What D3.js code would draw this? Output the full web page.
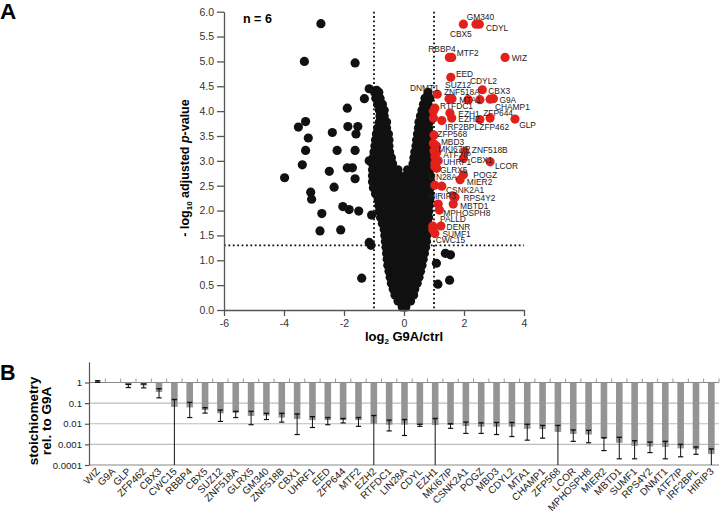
<!DOCTYPE html>
<html><head><meta charset="utf-8">
<script src="https://cdn.jsdelivr.net/npm/d3@7"></script>
<style>body{margin:0;background:#fff}svg{display:block;font-family:"Liberation Sans",Arial,Helvetica,sans-serif}</style>
</head><body><svg id="c" width="720" height="518"></svg>
<script>
// ---------- Panel A data ----------
const volcanoXTicks = [-6, -4, -2, 0, 2, 4];
const volcanoYTicks = [0, 0.5, 1, 1.5, 2, 2.5, 3, 3.5, 4, 4.5, 5, 5.5, 6];
const foldThresholds = [-1, 1];
const pThreshold = 1.3;

// dense central cloud: [-log10 p, [log2 fold values]]
const cloudRows = [
  [0.06, [-0.06, 0.06]],
  [0.18, [-0.2, -0.05, 0.1, 0.22]],
  [0.30, [-0.3, -0.12, 0.06, 0.24, 0.32]],
  [0.42, [-0.36, -0.18, 0, 0.18, 0.36]],
  [0.54, [-0.42, -0.24, -0.06, 0.12, 0.3, 0.44]],
  [0.66, [-0.46, -0.28, -0.1, 0.08, 0.26, 0.44, 0.5]],
  [0.78, [-0.5, -0.32, -0.14, 0.04, 0.22, 0.4, 0.55]],
  [0.90, [-0.54, -0.36, -0.18, 0, 0.18, 0.36, 0.54, 0.6]],
  [1.02, [-0.56, -0.38, -0.2, -0.02, 0.16, 0.34, 0.52, 0.64]],
  [1.14, [-0.58, -0.4, -0.22, -0.04, 0.14, 0.32, 0.5, 0.68]],
  [1.26, [-0.6, -0.42, -0.24, -0.06, 0.12, 0.3, 0.48, 0.66, 0.72]],
  [1.38, [-0.62, -0.44, -0.26, -0.08, 0.1, 0.28, 0.46, 0.64, 0.75]],
  [1.50, [-0.64, -0.46, -0.28, -0.1, 0.08, 0.26, 0.44, 0.62, 0.76]],
  [1.62, [-0.66, -0.48, -0.3, -0.12, 0.06, 0.24, 0.42, 0.6, 0.78]],
  [1.74, [-0.72, -0.54, -0.36, -0.18, 0, 0.18, 0.36, 0.54, 0.72, 0.8]],
  [1.86, [-0.78, -0.6, -0.42, -0.24, -0.06, 0.12, 0.3, 0.48, 0.66, 0.82]],
  [1.98, [-0.82, -0.64, -0.46, -0.28, -0.1, 0.08, 0.26, 0.44, 0.62, 0.82]],
  [2.10, [-0.84, -0.66, -0.48, -0.3, -0.12, 0.06, 0.24, 0.42, 0.6, 0.78, 0.84]],
  [2.22, [-0.86, -0.68, -0.5, -0.32, -0.14, 0.04, 0.22, 0.4, 0.58, 0.76, 0.86]],
  [2.34, [-0.95, -0.77, -0.59, -0.41, -0.23, -0.05, 0.13, 0.31, 0.49, 0.67, 0.86]],
  [2.46, [-1.02, -0.84, -0.66, -0.48, -0.3, -0.12, 0.06, 0.24, 0.42, 0.6, 0.78, 0.88]],
  [2.58, [-1.05, -0.87, -0.69, -0.51, -0.33, -0.15, 0.03, 0.21, 0.39, 0.57, 0.75, 0.88]],
  [2.70, [-1.05, -0.87, -0.69, -0.51, -0.33, -0.15, 0.06, 0.24, 0.42, 0.6, 0.78, 0.88]],
  [2.82, [-1.05, -0.87, -0.69, -0.51, -0.33, -0.2, 0.12, 0.3, 0.48, 0.66, 0.84]],
  [2.94, [-1.05, -0.87, -0.69, -0.52, -0.38, 0.3, 0.48, 0.66, 0.84]],
  [3.06, [-1.03, -0.85, -0.67, -0.52, -0.42, 0.33, 0.5, 0.68, 0.86]],
  [3.18, [-1.0, -0.82, -0.64, -0.48, 0.36, 0.54, 0.72, 0.88]],
  [3.30, [-0.97, -0.8, -0.64, -0.5, 0.4, 0.58, 0.76, 0.88]],
  [3.42, [-0.95, -0.78, -0.64, -0.5, 0.42, 0.6, 0.78, 0.88]],
  [3.54, [-0.92, -0.76, -0.62, -0.52, 0.45, 0.62, 0.8, 0.88]],
  [3.66, [-0.88, -0.72, -0.58, 0.48, 0.65, 0.82]],
  [3.78, [-0.82, -0.68, -0.58, 0.5, 0.68, 0.85]],
  [3.90, [-0.8, -0.66, 0.55, 0.72, 0.86]],
  [4.02, [-0.82, -0.66, 0.6, 0.76, 0.88]],
  [4.14, [-0.88, -0.72, 0.65, 0.8]],
  [4.26, [-0.94, -0.8, 0.7, 0.86]],
  [4.38, [-0.98, -0.84, 0.8]]
];

// scattered non-significant / depleted proteins [log2 fold, -log10 p]
const blackScatter = [
  [-2.77, 5.76], [-3.32, 5.0], [-1.63, 4.97], [-1.16, 4.45], [-0.91, 4.42], [-1.32, 4.25],
  [-1.89, 4.06], [-3.28, 3.79], [-3.52, 3.68], [-1.87, 3.69], [-1.54, 3.69], [-3.19, 3.46],
  [-2.39, 3.57], [-1.6, 3.54], [-3.28, 3.21], [-2.23, 3.21], [-1.63, 3.21], [-3.39, 2.92],
  [-1.89, 2.86], [-1.72, 2.86], [-2.49, 2.79], [-3.98, 2.66], [-1.63, 2.64], [-3.11, 2.37],
  [-2.33, 2.47], [-3.08, 2.23], [-2.04, 2.08], [-1.83, 2.02], [-1.51, 1.99], [-2.74, 1.94],
  [-2.11, 1.61], [-2.8, 1.59], [-1.16, 1.36], [-1.1, 1.30], [-1.41, 0.64], [-1.16, 3.0],
  [-1.08, 1.91], [1.38, 1.14], [1.55, 1.11], [1.08, 0.94], [1.13, 0.52], [1.52, 0.6]
];

// significantly enriched proteins
const redPoints = [
  [1.98, 5.75], [2.4, 5.75], [2.51, 5.75], [1.51, 5.08], [1.59, 5.08], [3.37, 5.08],
  [1.56, 4.68], [2.61, 4.43], [1.11, 4.34], [1.5, 4.25], [1.6, 4.25], [2.14, 4.23],
  [2.53, 4.23], [2.87, 4.24], [2.98, 4.25], [1.03, 4.06], [1.53, 3.96], [0.98, 4.0],
  [1.26, 3.81], [1.59, 3.86], [2.53, 3.83], [2.87, 3.86], [3.7, 3.84], [0.98, 3.86],
  [1.0, 3.52], [2.03, 3.19], [1.0, 3.2], [1.03, 3.08], [1.14, 3.0], [1.98, 3.05],
  [2.87, 2.98], [1.03, 2.88], [1.98, 2.72], [1.87, 2.62], [1.03, 2.51], [1.26, 2.49],
  [1.7, 2.27], [1.64, 2.29], [1.14, 2.13], [1.64, 2.13], [1.18, 2.01], [0.96, 1.69],
  [1.23, 1.69], [0.96, 1.62], [1.03, 1.54], [0.98, 3.35], [1.09, 3.17], [1.03, 2.95],
  [1.09, 2.85], [1.08, 3.3]
];

// label anchors (start of text, baseline) in data units
const redLabelNames = ["GM340","CBX5","CDYL","RBBP4","MTF2","WIZ","EED","CDYL2","SUZ12","DNMT1","CBX3","ZNF518A","MTA1","G9A","RTFDC1","CHAMP1","EZH1","ZFP644","EZH2","GLP","IRF2BPL","ZFP462","ZFP568","MBD3","MKI67IP","ZNF518B","ATF7IP","CBX1","UHRF1","LCOR","GLRX5","POGZ","LIN28A","MIER2","CSNK2A1","HIRIP3","RPS4Y2","MBTD1","MPHOSPH8","PALLD","DENR","SUMF1","CWC15"];
const redLabelX = [2.09,1.53,2.73,0.81,1.76,3.59,1.73,2.2,1.37,0.2,2.81,1.33,1.84,3.18,1.2,3.03,1.81,2.64,1.81,3.84,1.37,2.51,1.11,1.23,1.14,2.26,1.31,2.22,1.31,3.03,1.2,2.31,0.83,2.09,1.4,0.83,1.98,1.87,1.31,1.2,1.42,1.28,1.06];
const redLabelY = [5.83,5.49,5.61,5.18,5.11,5.01,4.69,4.54,4.46,4.4,4.35,4.33,4.16,4.17,4.04,4.02,3.89,3.9,3.78,3.67,3.62,3.62,3.47,3.32,3.17,3.15,3.06,2.96,2.91,2.83,2.75,2.66,2.62,2.52,2.36,2.23,2.19,2.03,1.89,1.77,1.61,1.46,1.34];

// ---------- Panel B data ----------
const barNames = ["WIZ","G9A","GLP","ZFP462","CBX3","CWC15","RBBP4","CBX5","SUZ12","ZNF518A","GLRX5","GM340","ZNF518B","CBX1","UHRF1","EED","ZFP644","MTF2","EZH2","RTFDC1","LIN28A","CDYL","EZH1","MKI67IP","CSNK2A1","POGZ","MBD3","CDYL2","MTA1","CHAMP1","ZFP568","LCOR","MPHOSPH8","MIER2","MBTD1","SUMF1","RPS4Y2","DNMT1","ATF7IP","IRF2BPL","HIRIP3"];
const barValues = [1.1,1,0.74,0.72,0.35,0.066,0.062,0.046,0.032,0.034,0.024,0.025,0.02,0.017,0.015,0.015,0.015,0.015,0.01,0.009,0.009,0.0087,0.0087,0.0087,0.0078,0.0072,0.0072,0.0072,0.0057,0.0055,0.004,0.0032,0.003,0.0019,0.0012,0.00085,0.0008,0.00076,0.00064,0.00057,0.00034];
const barErrHigh = [1.22,1,0.82,0.85,0.5,0.15,0.108,0.06,0.046,0.04,0.04,0.032,0.032,0.03,0.022,0.02,0.018,0.02,0.025,0.015,0.016,0.0095,0.018,0.01,0.012,0.011,0.0115,0.0115,0.0095,0.0083,0.0083,0.005,0.0048,0.0021,0.0022,0.0015,0.0013,0.0014,0.001,0.00075,0.0006];
const barErrLow = [1.02,1,0.57,0.55,0.18,0.0001,0.02,0.033,0.013,0.02,0.009,0.016,0.012,0.003,0.0066,0.009,0.011,0.0075,0.0001,0.0045,0.0027,0.0075,0.0001,0.006,0.0034,0.0034,0.003,0.0024,0.0016,0.002,0.0001,0.0014,0.0012,0.0005,0.0002,0.0002,0.0004,0.0002,0.00025,0.00033,0.0001];
const barTicks = [1, 0.1, 0.01, 0.001, 0.0001];
const barTickLabels = ["1", "0.1", "0.01", "0.001", "0.0001"];

// ---------- drawing ----------
const svg = d3.select("#c");
const RED = "#e2211c", BLACK = "#111", AX = "#555";

// Panel A
const xV = d3.scaleLinear().domain([-6, 4]).range([224, 524]);
const yV = d3.scaleLinear().domain([0, 6]).range([310, 11.7]);

const gA = svg.append("g");
const dots = gA.append("g").attr("stroke", "#111").attr("stroke-width", 1.8).attr("stroke-dasharray", "1.8,2.6");
foldThresholds.forEach(t => dots.append("line").attr("x1", xV(t)).attr("x2", xV(t)).attr("y1", yV(6)).attr("y2", yV(0)));
dots.append("line").attr("x1", xV(-6)).attr("x2", xV(4)).attr("y1", yV(pThreshold)).attr("y2", yV(pThreshold));

const blackPts = cloudRows.flatMap(([y, xs]) => xs.map(x => [x, y])).concat(blackScatter);
gA.append("g").selectAll("circle").data(blackPts).join("circle")
  .attr("cx", d => xV(d[0])).attr("cy", d => yV(d[1])).attr("r", 4.6).attr("fill", BLACK);
gA.append("g").selectAll("circle").data(redPoints).join("circle")
  .attr("cx", d => xV(d[0])).attr("cy", d => yV(d[1])).attr("r", 4.6).attr("fill", RED);

gA.append("g").selectAll("text").data(redLabelNames).join("text")
  .attr("x", (d, i) => xV(redLabelX[i])).attr("y", (d, i) => yV(redLabelY[i]))
  .attr("font-size", 8.4).attr("fill", "#222").text(d => d);

const yAxisA = gA.append("g").attr("transform", `translate(${xV(-6)},0)`)
  .call(d3.axisLeft(yV).tickValues(volcanoYTicks).tickFormat(d3.format(".1f")).tickSize(7).tickSizeOuter(0));
const xAxisA = gA.append("g").attr("transform", `translate(0,${yV(0)})`)
  .call(d3.axisBottom(xV).tickValues(volcanoXTicks).tickFormat(d => String(d)).tickSize(6).tickSizeOuter(0).tickPadding(4));
[yAxisA, xAxisA].forEach(a => {
  a.attr("font-family", null).attr("font-size", 10.5);
  a.selectAll("path,line").attr("stroke", AX).attr("stroke-width", 1.3);
  a.selectAll("text").attr("fill", "#333");
});

gA.append("text").attr("x", 404).attr("y", 341).attr("text-anchor", "middle")
  .attr("font-weight", "bold").attr("font-size", 13)
  .call(t => { t.append("tspan").text("log"); t.append("tspan").attr("font-size", 8).attr("dy", 3).text("2");
               t.append("tspan").attr("dy", -3).text(" G9A/ctrl"); });
gA.append("text").attr("transform", "translate(189,168) rotate(-90)").attr("text-anchor", "middle")
  .attr("font-weight", "bold").attr("font-size", 12.5)
  .call(t => { t.append("tspan").text("- log"); t.append("tspan").attr("font-size", 8).attr("dy", 3).text("10");
               t.append("tspan").attr("dy", -3).text(" adjusted ");
               t.append("tspan").attr("font-style", "italic").text("p");
               t.append("tspan").text("-value"); });
gA.append("text").attr("x", 243).attr("y", 23).attr("font-weight", "bold").attr("font-size", 12.5).text("n = 6");
svg.append("text").attr("x", 0).attr("y", 19).attr("font-weight", "bold").attr("font-size", 22.5).text("A");
svg.append("text").attr("x", 0).attr("y", 380).attr("font-weight", "bold").attr("font-size", 21.5).text("B");

// Panel B
const xB = d3.scaleBand().domain(barNames).range([90, 719]);
const yB = d3.scaleLog().domain([1e-4, 10]).range([465, 361.9]);
const gB = svg.append("g");

barTicks.forEach(t => {
  gB.append("line").attr("x1", 89).attr("x2", 719).attr("y1", yB(t)).attr("y2", yB(t))
    .attr("stroke", (t === 1 || t === 1e-4) ? "#888" : "#bdbdbd").attr("stroke-width", 1.1);
});
gB.append("g").selectAll("line").data(barNames).join("line")
  .attr("x1", d => xB(d) + xB.bandwidth()).attr("x2", d => xB(d) + xB.bandwidth())
  .attr("y1", yB(1) - 4).attr("y2", yB(1)).attr("stroke", "#999").attr("stroke-width", 1);

const bw = 6.6;
gB.append("g").selectAll("rect").data(barNames).join("rect")
  .attr("x", d => xB(d) + xB.bandwidth() / 2 - bw / 2)
  .attr("y", (d, i) => Math.min(yB(barValues[i]), yB(1)))
  .attr("width", bw)
  .attr("height", (d, i) => Math.abs(yB(barValues[i]) - yB(1)))
  .attr("fill", "#949494");

const eg = gB.append("g").attr("stroke", "#111").attr("stroke-width", 1);
barNames.forEach((n, i) => {
  if (barErrHigh[i] === barErrLow[i]) return;
  const cx = xB(n) + xB.bandwidth() / 2;
  eg.append("line").attr("x1", cx).attr("x2", cx).attr("y1", yB(barErrHigh[i])).attr("y2", yB(barErrLow[i]));
  eg.append("line").attr("x1", cx - 2.6).attr("x2", cx + 2.6).attr("y1", yB(barErrHigh[i])).attr("y2", yB(barErrHigh[i])).attr("stroke-width", 1.4);
  if (barErrLow[i] > 1e-4)
    eg.append("line").attr("x1", cx - 2.6).attr("x2", cx + 2.6).attr("y1", yB(barErrLow[i])).attr("y2", yB(barErrLow[i])).attr("stroke-width", 1.2);
});

const yAxisB = gB.append("g").attr("transform", "translate(89,0)")
  .call(d3.axisLeft(yB).tickValues(barTicks).tickFormat((d, i) => barTickLabels[i]).tickSize(4).tickSizeOuter(0).tickPadding(3));
yAxisB.attr("font-family", null).attr("font-size", 9.6);
yAxisB.selectAll("path,line").attr("stroke", AX).attr("stroke-width", 1.2);
yAxisB.selectAll("text").attr("fill", "#222");

gB.append("g").selectAll("text").data(barNames).join("text")
  .attr("transform", d => `translate(${xB(d) + xB.bandwidth() / 2 + 3},${472}) rotate(-45)`)
  .attr("text-anchor", "end").attr("font-size", 10).attr("fill", "#222").text(d => d);

const yt = gB.append("text").attr("transform", "translate(38,421) rotate(-90)").attr("text-anchor", "middle")
  .attr("font-weight", "bold").attr("font-size", 13.5);
yt.append("tspan").attr("x", 0).attr("dy", 0).text("stoichiometry");
yt.append("tspan").attr("x", 0).attr("dy", 13).text("rel. to G9A");
</script></body></html>
